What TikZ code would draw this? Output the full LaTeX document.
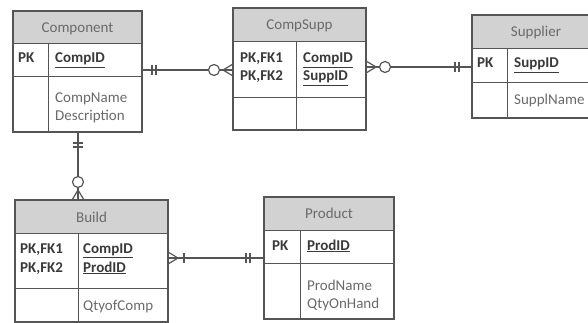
\documentclass[tikz,border=0pt]{standalone}
\usepackage{fontspec}
\setmainfont{Carlito}
\usetikzlibrary{fit}
\definecolor{lncol}{HTML}{555555}
\definecolor{hdrfill}{HTML}{D2D2D2}
\definecolor{txtcol}{HTML}{6A6A6A}
\definecolor{keycol}{HTML}{3A3A3A}
\tikzset{
  frame/.style={draw=lncol, line width=1.1pt},
  inner/.style={draw=lncol, line width=0.9pt},
  conn/.style={draw=lncol, line width=1.2pt},
  ttl/.style={font=\fontsize{15}{18}\selectfont, text=txtcol, inner sep=0pt},
  cell/.style={font=\fontsize{15}{18}\selectfont, text=txtcol, inner sep=0pt, anchor=base west, align=left},
  keycell/.style={cell, text=keycol, font=\fontsize{15}{18}\selectfont\bfseries},
  dbar/.pic={\draw[conn] (0,-5)--(0,5); \draw[conn] (4,-5)--(4,5);},
  sbar/.pic={\draw[conn] (0,-5)--(0,5);},
  ring/.pic={\draw[conn, fill=white] (0,0) circle (5.5);},
  crow/.pic={\draw[conn] (-10,0)--(0,-6); \draw[conn] (-10,0)--(0,6);},
}
% name, x1, y1, x2, y2, header bottom, row bottom, divider x, title
\newcommand\erent[9]{%
  \fill[hdrfill] (#2,#3) rectangle (#4,#6);
  \draw[inner] (#2,#6) -- (#4,#6);
  \draw[inner] (#2,#7) -- (#4,#7);
  \draw[inner] (#8,#6) -- (#8,#5);
  \draw[frame] (#2,#3) rectangle (#4,#5);
  \node[inner sep=0pt, fit={(#2,#3)(#4,#5)}] (#1) {};
}
\begin{document}
\begin{tikzpicture}[x=1pt,y=-1pt]
\useasboundingbox (0,0) rectangle (588,323);
\begin{scope}
\clip (0,0) rectangle (588,323);
% Component
\erent{comp}{13}{11}{142}{132}{43}{76}{48}{Component}
\node[ttl, anchor=base] (compT) at (77.5,33) {Component};
\node[keycell] (compPK) at (18,63) {PK};
\node[keycell] (compK) at (55,63) {\underline{CompID}};
\node[cell] (compA1) at (55,103) {CompName};
\node[cell] (compA2) at (55,121) {Description};
% CompSupp
\erent{cs}{233}{8}{366}{130}{41}{97}{296}{CompSupp}
\node[ttl, anchor=base] (csT) at (299.5,30) {CompSupp};
\node[keycell] (csPK1) at (240,63) {PK,FK1};
\node[keycell] (csPK2) at (240,81) {PK,FK2};
\node[keycell] (csK1) at (303,63) {\underline{CompID}};
\node[keycell] (csK2) at (303,81) {\underline{SuppID}};
% Supplier
\erent{sup}{472}{15}{600}{118}{48}{82}{507}{Supplier}
\node[ttl, anchor=base] (supT) at (536,37) {Supplier};
\node[keycell] (supPK) at (477,68) {PK};
\node[keycell] (supK) at (514,68) {\underline{SuppID}};
\node[cell] (supA1) at (514,105) {SupplName};
% Build
\erent{bld}{15}{200}{168}{322}{233}{288}{78}{Build}
\node[ttl, anchor=base] (bldT) at (91.5,222) {Build};
\node[keycell] (bldPK1) at (20,253) {PK,FK1};
\node[keycell] (bldPK2) at (20,272) {PK,FK2};
\node[keycell] (bldK1) at (83,253) {\underline{CompID}};
\node[keycell] (bldK2) at (83,272) {\underline{ProdID}};
\node[cell] (bldA1) at (83,310) {QtyofComp};
% Product
\erent{prod}{264}{197}{394}{319}{230}{263}{300}{Product}
\node[ttl, anchor=base] (prodT) at (329,218) {Product};
\node[keycell] (prodPK) at (272,250) {PK};
\node[keycell] (prodK) at (307,250) {\underline{ProdID}};
\node[cell] (prodA1) at (307,290) {ProdName};
\node[cell] (prodA2) at (307,308) {QtyOnHand};
\end{scope}
% connectors
\coordinate (l1) at (0,70);
\coordinate (l2) at (0,67);
\coordinate (l3) at (78,0);
\coordinate (l4) at (0,258);
\draw[conn] (comp.east |- l1) -- (cs.west |- l1);
\pic at (152,70) {dbar};
\pic at (214,70) {ring};
\pic at (233,70) {crow};
\draw[conn] (cs.east |- l2) -- (sup.west |- l2);
\pic[rotate=180] at (366,67) {crow};
\pic at (385,67) {ring};
\pic at (455,67) {dbar};
\draw[conn] (comp.south -| l3) -- (bld.north -| l3);
\pic[rotate=-90] at (78,143) {dbar};
\pic at (78,182) {ring};
\pic[rotate=-90] at (78,200) {crow};
\draw[conn] (bld.east |- l4) -- (prod.west |- l4);
\pic[rotate=180] at (168,258) {crow};
\pic at (184,258) {sbar};
\pic at (246,258) {dbar};
\end{tikzpicture}
\end{document}
